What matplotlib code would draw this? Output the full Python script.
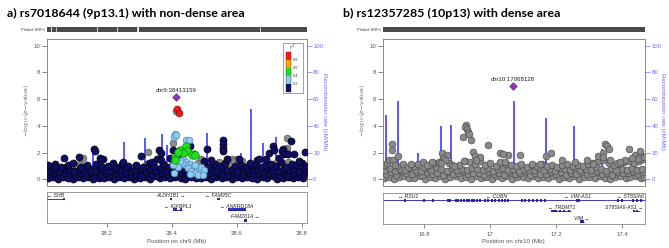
import matplotlib
matplotlib.use("Agg")
import matplotlib.pyplot as plt

plt.rcParams['font.family'] = ['Liberation Sans', 'DejaVu Sans']

W, H = 669, 248
fig = plt.figure(figsize=(W / 100, H / 100), dpi=100)

# ---------------- data: panel a (chr9) ----------------
a_band1_pos = [38.018, 38.033, 38.049, 38.064, 38.081, 38.095, 38.112, 38.127, 38.143, 38.158, 38.175, 38.190, 38.206, 38.221, 38.238, 38.253, 38.269, 38.284, 38.301, 38.316, 38.332, 38.347, 38.364, 38.379, 38.395, 38.410, 38.427, 38.442, 38.458, 38.473, 38.490, 38.505, 38.521, 38.536, 38.553, 38.568, 38.584, 38.599, 38.616, 38.631, 38.647, 38.662, 38.679, 38.694, 38.710, 38.725, 38.742, 38.757, 38.773, 38.788, 38.805]
a_band1_p = [0.08, 0.15, 0.05, 0.20, 0.12, 0.03, 0.18, 0.10, 0.22, 0.06, 0.14, 0.09, 0.19, 0.04, 0.16, 0.11, 0.21, 0.07, 0.13, 0.17, 0.05, 0.23, 0.10, 0.15, 0.08, 0.19, 0.12, 0.04, 0.18, 0.09, 0.14, 0.21, 0.06, 0.16, 0.11, 0.20, 0.03, 0.15, 0.09, 0.22, 0.13, 0.07, 0.17, 0.10, 0.24, 0.05, 0.14, 0.19, 0.08, 0.16, 0.12]
a_band2_pos = [38.025, 38.041, 38.056, 38.072, 38.088, 38.103, 38.119, 38.135, 38.150, 38.166, 38.182, 38.197, 38.213, 38.229, 38.244, 38.260, 38.276, 38.291, 38.307, 38.323, 38.338, 38.354, 38.370, 38.385, 38.401, 38.417, 38.432, 38.448, 38.464, 38.479, 38.495, 38.511, 38.526, 38.542, 38.558, 38.573, 38.589, 38.605, 38.620, 38.636, 38.652, 38.667, 38.683, 38.699, 38.714, 38.730, 38.746, 38.761, 38.777, 38.793, 38.810]
a_band2_p = [0.38, 0.45, 0.32, 0.51, 0.41, 0.35, 0.48, 0.30, 0.55, 0.43, 0.36, 0.50, 0.33, 0.46, 0.40, 0.53, 0.37, 0.44, 0.31, 0.49, 0.42, 0.34, 0.52, 0.39, 0.47, 0.33, 0.45, 0.38, 0.54, 0.36, 0.43, 0.50, 0.32, 0.48, 0.41, 0.35, 0.53, 0.44, 0.30, 0.47, 0.39, 0.51, 0.34, 0.46, 0.42, 0.37, 0.55, 0.33, 0.49, 0.40, 0.45]
a_band3_pos = [38.020, 38.037, 38.053, 38.068, 38.085, 38.100, 38.116, 38.131, 38.147, 38.163, 38.179, 38.194, 38.210, 38.225, 38.241, 38.257, 38.273, 38.288, 38.304, 38.319, 38.336, 38.351, 38.367, 38.382, 38.398, 38.414, 38.430, 38.445, 38.461, 38.476, 38.492, 38.508, 38.524, 38.539, 38.555, 38.570, 38.587, 38.602, 38.618, 38.633, 38.649, 38.665, 38.681, 38.696, 38.712, 38.727, 38.744, 38.759, 38.775, 38.790, 38.807]
a_band3_p = [0.66, 0.78, 0.61, 0.84, 0.70, 0.63, 0.81, 0.68, 0.75, 0.60, 0.83, 0.72, 0.64, 0.79, 0.69, 0.86, 0.62, 0.74, 0.80, 0.65, 0.77, 0.71, 0.85, 0.60, 0.73, 0.67, 0.82, 0.70, 0.63, 0.78, 0.66, 0.84, 0.72, 0.61, 0.80, 0.69, 0.76, 0.64, 0.83, 0.71, 0.68, 0.79, 0.62, 0.85, 0.74, 0.66, 0.81, 0.70, 0.77, 0.63, 0.75]
a_band4_pos = [38.022, 38.040, 38.058, 38.079, 38.097, 38.121, 38.139, 38.168, 38.186, 38.205, 38.228, 38.247, 38.265, 38.290, 38.312, 38.329, 38.345, 38.374, 38.391, 38.437, 38.498, 38.515, 38.532, 38.549, 38.563, 38.594, 38.612, 38.628, 38.644, 38.659, 38.676, 38.690, 38.706, 38.721, 38.735, 38.750, 38.770, 38.784, 38.800, 38.812]
a_band4_p = [0.95, 1.12, 0.90, 1.05, 1.20, 0.93, 1.08, 1.15, 0.97, 1.02, 0.91, 1.18, 0.99, 1.10, 0.94, 1.25, 1.04, 1.13, 0.96, 1.00, 1.07, 0.92, 1.16, 1.01, 1.22, 0.98, 1.11, 0.93, 1.06, 1.19, 0.95, 1.09, 1.14, 1.02, 1.28, 0.97, 1.17, 1.05, 1.21, 0.99]

a_gray_pos = [38.412, 38.405, 38.104, 38.128, 38.328, 38.489, 38.574, 38.584, 38.599, 38.753, 38.754, 38.075, 38.090, 38.118, 38.260, 38.285, 38.320, 38.335, 38.480, 38.520, 38.545, 38.578, 38.590, 38.605, 38.615, 38.625, 38.720, 38.735, 38.758, 38.762, 38.780, 38.400, 38.500]
a_gray_p = [5.10, 2.73, 1.10, 1.58, 2.08, 1.55, 1.55, 1.50, 1.55, 3.08, 2.38, 0.95, 1.05, 1.15, 0.50, 0.90, 1.10, 1.00, 1.20, 1.10, 1.30, 1.25, 1.40, 1.15, 1.35, 0.95, 1.20, 1.00, 1.30, 0.80, 1.10, 1.45, 1.25]
a_navy_pos = [38.018, 38.040, 38.068, 38.114, 38.162, 38.164, 38.179, 38.189, 38.183, 38.305, 38.338, 38.355, 38.361, 38.367, 38.368, 38.405, 38.455, 38.507, 38.557, 38.557, 38.557, 38.557, 38.569, 38.607, 38.663, 38.667, 38.700, 38.712, 38.714, 38.741, 38.738, 38.745, 38.757, 38.766, 38.776, 38.810, 38.395, 38.415, 38.430, 38.500, 38.520, 38.640, 38.690, 38.730, 38.790, 38.250, 38.220]
a_navy_p = [1.05, 0.93, 1.60, 1.68, 2.26, 2.10, 1.60, 1.55, 1.45, 1.73, 1.30, 1.55, 2.23, 1.98, 1.43, 2.23, 2.53, 2.25, 2.93, 2.68, 2.35, 2.10, 1.55, 1.55, 1.43, 1.55, 1.95, 2.50, 2.18, 2.25, 2.15, 1.93, 1.93, 2.86, 1.93, 2.03, 1.60, 1.85, 1.40, 1.35, 1.45, 1.25, 1.50, 1.60, 1.40, 1.30, 1.20]
a_lblue_pos = [38.411, 38.408, 38.413, 38.445, 38.452, 38.434, 38.445, 38.455, 38.465, 38.476, 38.486, 38.440, 38.450, 38.460, 38.470, 38.430, 38.420, 38.480, 38.490, 38.500, 38.455, 38.405, 38.408, 38.425, 38.470, 38.495]
a_lblue_p = [3.38, 3.20, 3.30, 2.93, 2.98, 1.55, 1.30, 1.18, 0.92, 0.73, 0.55, 1.05, 0.85, 0.62, 0.45, 1.20, 0.90, 0.35, 0.95, 0.70, 0.40, 1.05, 0.45, 1.40, 1.10, 0.30]
a_green_pos = [38.425, 38.445, 38.447, 38.467, 38.463, 38.433, 38.411, 38.410, 38.420, 38.472]
a_green_p = [2.22, 2.48, 2.10, 1.93, 1.80, 1.98, 1.65, 1.43, 2.05, 1.85]
a_red_pos = [38.415, 38.421]
a_red_p = [5.29, 4.94]
a_lead_pos, a_lead_p, a_lead_label = 38.413, 6.19, "chr9:38413159"

a_rec_pos = [38.156, 38.252, 38.317, 38.371, 38.384, 38.507, 38.613, 38.643, 38.681, 38.721]
a_rec_rate = [22, 28, 31, 34, 26, 35, 20, 53, 27, 32]

a_gene_names = ['SHB', 'ALDH1B1', 'FAM95C', 'IGFBPL1', 'ANKRD18A', 'FAM201A']
a_gene_start = [38.015, 38.395, 38.542, 38.404, 38.574, 38.622]
a_gene_end = [38.069, 38.398, 38.546, 38.431, 38.625, 38.628]
a_gene_row = [0, 0, 0, 1, 1, 2]
a_gene_strand = ['-', '+', '-', '-', '-', '+']
a_exon_pos = [38.016, 38.068, 38.396, 38.398, 38.543, 38.545, 38.406, 38.412, 38.428, 38.576, 38.582, 38.588, 38.594, 38.600, 38.606, 38.612, 38.618, 38.624, 38.624, 38.627]
a_exon_row = [0, 0, 0, 0, 0, 0, 1, 1, 1, 1, 1, 1, 1, 1, 1, 1, 1, 1, 2, 2]

# ---------------- data: panel b (chr10) ----------------
b_band1_pos = [16.677, 16.692, 16.708, 16.723, 16.739, 16.754, 16.770, 16.786, 16.801, 16.817, 16.832, 16.848, 16.864, 16.879, 16.895, 16.910, 16.926, 16.942, 16.957, 16.973, 16.988, 17.004, 17.020, 17.035, 17.051, 17.066, 17.082, 17.098, 17.113, 17.129, 17.144, 17.160, 17.176, 17.191, 17.207, 17.222, 17.238, 17.254, 17.269, 17.285, 17.300, 17.316, 17.332, 17.347, 17.363, 17.378, 17.394, 17.410, 17.425, 17.441, 17.456, 17.466]
b_band1_p = [0.10, 0.22, 0.05, 0.17, 0.28, 0.08, 0.14, 0.25, 0.03, 0.19, 0.11, 0.27, 0.06, 0.16, 0.23, 0.09, 0.20, 0.04, 0.26, 0.13, 0.18, 0.07, 0.24, 0.12, 0.29, 0.05, 0.15, 0.21, 0.10, 0.26, 0.08, 0.18, 0.13, 0.24, 0.04, 0.20, 0.11, 0.28, 0.07, 0.16, 0.22, 0.09, 0.25, 0.14, 0.06, 0.19, 0.27, 0.12, 0.17, 0.23, 0.08, 0.15]
b_band2_pos = [16.684, 16.700, 16.715, 16.731, 16.746, 16.762, 16.778, 16.793, 16.809, 16.824, 16.840, 16.856, 16.871, 16.887, 16.902, 16.918, 16.934, 16.949, 16.965, 16.980, 16.996, 17.012, 17.027, 17.043, 17.058, 17.074, 17.090, 17.105, 17.121, 17.136, 17.152, 17.168, 17.183, 17.199, 17.214, 17.230, 17.246, 17.261, 17.277, 17.292, 17.308, 17.324, 17.339, 17.355, 17.370, 17.386, 17.402, 17.417, 17.433, 17.448, 17.462]
b_band2_p = [0.42, 0.55, 0.37, 0.60, 0.46, 0.39, 0.53, 0.35, 0.58, 0.44, 0.50, 0.36, 0.57, 0.41, 0.48, 0.62, 0.38, 0.52, 0.45, 0.35, 0.59, 0.43, 0.49, 0.37, 0.56, 0.40, 0.47, 0.61, 0.36, 0.51, 0.44, 0.38, 0.54, 0.42, 0.58, 0.35, 0.48, 0.41, 0.55, 0.39, 0.46, 0.60, 0.43, 0.52, 0.37, 0.57, 0.45, 0.50, 0.62, 0.40, 0.53]
b_band3_pos = [16.680, 16.696, 16.712, 16.727, 16.743, 16.758, 16.774, 16.790, 16.805, 16.821, 16.836, 16.852, 16.868, 16.883, 16.899, 16.914, 16.930, 16.946, 16.961, 16.977, 16.992, 17.008, 17.024, 17.039, 17.055, 17.070, 17.086, 17.102, 17.117, 17.133, 17.148, 17.164, 17.180, 17.195, 17.211, 17.226, 17.242, 17.258, 17.273, 17.289, 17.304, 17.320, 17.336, 17.351, 17.367, 17.382, 17.398, 17.414, 17.429, 17.445, 17.460]
b_band3_p = [0.72, 0.85, 0.66, 0.80, 0.69, 0.88, 0.74, 0.67, 0.83, 0.71, 0.90, 0.76, 0.65, 0.86, 0.73, 0.81, 0.68, 0.89, 0.75, 0.70, 0.84, 0.66, 0.79, 0.87, 0.72, 0.77, 0.65, 0.82, 0.74, 0.69, 0.86, 0.71, 0.80, 0.67, 0.88, 0.75, 0.70, 0.83, 0.68, 0.78, 0.73, 0.90, 0.76, 0.66, 0.85, 0.72, 0.81, 0.69, 0.87, 0.74, 0.79]
b_band4_pos = [16.678, 16.688, 16.716, 16.735, 16.750, 16.768, 16.782, 16.800, 16.815, 16.830, 16.845, 16.860, 16.875, 16.885, 16.905, 16.922, 16.938, 16.953, 16.968, 16.984, 17.000, 17.016, 17.031, 17.047, 17.062, 17.078, 17.094, 17.110, 17.125, 17.140, 17.156, 17.172, 17.187, 17.203, 17.218, 17.234, 17.250, 17.265, 17.281, 17.296, 17.312, 17.328, 17.343, 17.359, 17.374, 17.390, 17.406, 17.421, 17.437, 17.452, 17.464]
b_band4_p = [1.05, 1.25, 0.98, 1.12, 0.95, 1.02, 1.15, 0.97, 1.08, 1.20, 1.30, 1.45, 1.22, 1.10, 1.05, 1.35, 1.28, 1.18, 1.40, 1.10, 1.25, 1.00, 1.32, 1.15, 1.05, 0.98, 1.12, 0.95, 1.08, 1.02, 1.18, 1.00, 1.10, 0.96, 1.05, 1.14, 0.98, 1.08, 1.02, 1.12, 1.20, 1.35, 1.48, 1.25, 1.10, 1.18, 1.30, 1.40, 1.22, 1.35, 1.50]
b_gray_pos = [16.702, 16.702, 16.693, 16.706, 16.721, 16.759, 16.797, 16.809, 16.824, 16.853, 16.868, 16.857, 16.862, 16.850, 16.891, 16.916, 16.926, 16.923, 16.929, 16.932, 16.936, 16.941, 16.920, 16.949, 16.954, 16.969, 16.957, 16.994, 17.029, 17.053, 17.039, 17.045, 17.090, 17.125, 17.151, 17.169, 17.183, 17.216, 17.257, 17.292, 17.310, 17.327, 17.348, 17.353, 17.361, 17.341, 17.342, 17.363, 17.383, 17.421, 17.439, 17.454, 17.454, 17.449, 17.408, 17.430, 17.466, 17.393, 16.711]
b_gray_p = [2.63, 2.23, 1.48, 1.48, 1.73, 1.18, 1.30, 1.05, 1.30, 1.98, 1.80, 1.58, 1.43, 1.20, 0.98, 3.18, 4.06, 3.95, 3.81, 3.56, 3.38, 2.98, 1.38, 2.05, 1.73, 1.68, 1.43, 2.56, 1.98, 1.80, 1.88, 1.30, 1.80, 1.18, 1.13, 1.73, 1.98, 1.48, 1.30, 1.48, 1.13, 1.73, 2.68, 2.48, 2.30, 1.98, 1.65, 1.43, 1.23, 2.30, 1.80, 1.93, 2.10, 1.55, 1.43, 1.58, 1.65, 1.28, 1.10]
b_lead_pos, b_lead_p, b_lead_label = 17.068, 7.00, "chr10:17068128"

b_rec_pos = [16.684, 16.721, 16.782, 16.851, 16.881, 17.071, 17.169, 17.255, 17.338]
b_rec_rate = [48, 59, 20, 40, 41, 59, 46, 40, 23]

b_gene_names = ['RSU1', 'CUBN', 'VIM-AS1', 'ST8SIA6', 'TRDMT1', 'ST8SIA6-AS1', 'VIM']
b_gene_start = [16.637, 16.865, 17.176, 17.352, 17.185, 17.432, 17.272]
b_gene_end = [16.865, 17.176, 17.352, 17.502, 17.245, 17.454, 17.283]
b_gene_row = [0, 0, 0, 0, 1, 1, 2]
b_gene_strand = ['-', '-', '-', '-', '-', '+', '+']
b_exon_pos = [16.742, 16.800, 16.827, 16.873, 16.879, 16.895, 16.903, 16.911, 16.920, 16.928, 16.936, 16.944, 16.952, 16.960, 16.968, 16.985, 16.992, 17.005, 17.015, 17.025, 17.035, 17.045, 17.055, 17.095, 17.105, 17.118, 17.130, 17.142, 17.155, 17.165, 17.262, 17.270, 17.388, 17.398, 17.432, 17.445, 17.458,
              17.188, 17.192, 17.196, 17.200, 17.210, 17.225, 17.240, 17.436, 17.446, 17.274, 17.278, 17.282]
b_exon_row = [0] * 37 + [1] * 9 + [2] * 3

# ---------------- styling ----------------
NAVY = '#0e0e66'
GRAY = '#8a8a8a'
LBLUE = '#8ccbf2'
GREEN = '#1fe01f'
ORANGE = '#ffa500'
RED = '#ff1414'
PURPLE = '#8e35c2'
RECOMB = '#2b2bff'
GENE = '#1c1ca8'
SPINE = '#8a8a8a'
TXT = '#555555'


def ax_px(x0, y0, x1, y1):
    return fig.add_axes([x0 / W, 1 - y1 / H, (x1 - x0) / W, (y1 - y0) / H])


def draw_panel(x0, x1, gy0, gy1, title, chrom, xlim, xticks, xticklabels,
               groups, lead, rec_pos, rec_rate, genes, exons, legend):
    # title
    fig.text((x0 - 39.5) / W, 1 - 13 / H, title, fontsize=8.9, fontweight='bold',
             family=['Lato', 'DejaVu Sans'], va='center', ha='left')
    # plotted SNP strip
    st = ax_px(x0, 27.3, x1, 32.3)
    allpos = []
    for g in groups:
        allpos += list(g[0])
    st.vlines(allpos, 0, 1, color='#4a4a4a', lw=1.6)
    st.set_xlim(xlim)
    st.set_ylim(0, 1)
    st.axis('off')
    fig.text((x0 - 2) / W, 1 - 29.8 / H, 'Plotted SNPs', ha='right', va='center',
             fontsize=2.9, color='#444444')

    # main scatter
    ax = ax_px(x0, 39, x1, 185.5)
    ax2 = ax.twinx()
    ax.set_zorder(ax2.get_zorder() + 1)
    ax.patch.set_visible(False)
    ax2.vlines(rec_pos, 0, rec_rate, color=RECOMB, lw=1.1)
    ax2.set_ylim(-4.5, 105)
    ax.set_ylim(-0.45, 10.5)
    ax.set_xlim(xlim)
    ax2.set_xlim(xlim)
    for pos, p, fc, ec, s in groups:
        ax.scatter(pos, p, s=s, c=fc, edgecolors=ec, linewidths=0.45, zorder=3)
    lp, lv, ll = lead
    ax.scatter([lp], [lv], marker='D', s=15, c=PURPLE, edgecolors='#4a1a6a',
               linewidths=0.4, zorder=5)
    ax.text(lp, lv + 0.27, ll, ha='center', va='bottom', fontsize=4.4, color='#222222')
    ax.set_xticks([])
    ax.set_yticks([0, 2, 4, 6, 8, 10])
    ax.tick_params(axis='y', labelsize=4.3, length=3.5, width=0.5, colors=TXT, pad=1.2)
    ax2.set_yticks([0, 20, 40, 60, 80, 100])
    ax2.tick_params(axis='y', labelsize=4.3, length=3.5, width=0.5, colors='#6f6fff', pad=1.2)
    for a in (ax, ax2):
        for sp in a.spines.values():
            sp.set_color(SPINE)
            sp.set_linewidth(0.6)
    fig.text((x0 - 20) / W, 1 - 110 / H, r'$-\log_{10}(p\mathrm{-value})$', rotation=90,
             ha='center', va='center', fontsize=4.4, color='#806f60')
    fig.text((x1 + 18) / W, 1 - 112 / H, 'Recombination rate (cM/Mb)', rotation=270,
             ha='center', va='center', fontsize=4.4, color='#6a6aff')

    if legend:
        box = plt.Rectangle((0.908, 0.628), 0.079, 0.346, transform=ax.transAxes,
                            facecolor='white', edgecolor='#777777', lw=0.5, zorder=6)
        ax.add_patch(box)
        cols = [NAVY, LBLUE, GREEN, ORANGE, RED]
        h = 0.0548
        for i, c in enumerate(cols):
            ax.add_patch(plt.Rectangle((0.919, 0.639 + i * h), 0.021, h,
                                       transform=ax.transAxes, facecolor=c,
                                       edgecolor='none', zorder=7))
        ax.add_patch(plt.Rectangle((0.919, 0.639), 0.021, 5 * h, transform=ax.transAxes,
                                   facecolor='none', edgecolor='#333333', lw=0.3, zorder=8))
        for i, lab in enumerate(['0.2', '0.4', '0.6', '0.8']):
            ax.text(0.947, 0.639 + (i + 1) * h, lab, transform=ax.transAxes, fontsize=2.9,
                    va='center', ha='left', color='#444444', zorder=8)
        ax.text(0.945, 0.945, r'$r^2$', transform=ax.transAxes, fontsize=3.8,
                va='center', ha='center', color='#444444', zorder=8)

    # gene panel
    g = ax_px(x0, gy0, x1, gy1)
    g.set_xlim(xlim)
    g.set_ylim(31, 0)
    g.set_yticks([])
    g.set_xticks(xticks)
    g.set_xticklabels(xticklabels)
    g.tick_params(axis='x', labelsize=4.3, length=3, width=0.5, colors=TXT, pad=3)
    for sp in g.spines.values():
        sp.set_color(SPINE)
        sp.set_linewidth(0.6)
    names, starts, ends, rows, strands = genes
    for n, s0, s1, r, sd in zip(names, starts, ends, rows, strands):
        y = 7.3 + r * 10.7
        g.hlines(y, s0, s1, color=GENE, lw=0.6)
        lab = ('\u2190 ' + n) if sd == '-' else (n + ' \u2192')
        t = g.text((s0 + s1) / 2, y - 3.4, lab, ha='center', va='center', fontsize=3.7,
                   style='italic', color='#222222')
        fig.canvas.draw()
        bb = t.get_window_extent()
        gb = g.get_window_extent()
        if bb.x1 > gb.x1 - 2:
            t.set_ha('right')
            t.set_x(xlim[1] - (xlim[1] - xlim[0]) * 0.005)
    epos, erow = exons
    ey = [7.3 + r * 10.7 for r in erow]
    g.vlines(epos, [v - 1.3 for v in ey], [v + 1.3 for v in ey], color=GENE, lw=1.3)
    fig.text((x0 + x1) / 2 / W, 1 - 241.5 / H, 'Position on %s (Mb)' % chrom,
             ha='center', va='center', fontsize=4.5, color=TXT)


groups_a = [
    (a_gray_pos, a_gray_p, GRAY, '#555555', 24),
    (a_band1_pos, a_band1_p, NAVY, '#000000', 26),
    (a_band2_pos, a_band2_p, NAVY, '#000000', 26),
    (a_band3_pos, a_band3_p, NAVY, '#000000', 26),
    (a_band4_pos, a_band4_p, NAVY, '#000000', 26),
    (a_navy_pos, a_navy_p, NAVY, '#000000', 26),
    (a_lblue_pos, a_lblue_p, LBLUE, '#4a7fa0', 24),
    (a_green_pos, a_green_p, GREEN, '#117711', 30),
    (a_red_pos, a_red_p, RED, '#770000', 24),
]
groups_b = [
    (b_band1_pos, b_band1_p, GRAY, '#4a4a4a', 24),
    (b_band2_pos, b_band2_p, GRAY, '#4a4a4a', 24),
    (b_band3_pos, b_band3_p, GRAY, '#4a4a4a', 24),
    (b_band4_pos, b_band4_p, GRAY, '#4a4a4a', 24),
    (b_gray_pos, b_gray_p, GRAY, '#4a4a4a', 24),
]

draw_panel(46.7, 306.7, 191.7, 222.7, 'a) rs7018644 (9p13.1) with non-dense area', 'chr9',
           (38.015, 38.815), [38.2, 38.4, 38.6, 38.8], ['38.2', '38.4', '38.6', '38.8'],
           groups_a, (a_lead_pos, a_lead_p, a_lead_label), a_rec_pos, a_rec_rate,
           (a_gene_names, a_gene_start, a_gene_end, a_gene_row, a_gene_strand),
           (a_exon_pos, a_exon_row), True)
draw_panel(382.7, 645, 193, 224, 'b) rs12357285 (10p13) with dense area', 'chr10',
           (16.674, 17.469), [16.8, 17.0, 17.2, 17.4], ['16.8', '17', '17.2', '17.4'],
           groups_b, (b_lead_pos, b_lead_p, b_lead_label), b_rec_pos, b_rec_rate,
           (b_gene_names, b_gene_start, b_gene_end, b_gene_row, b_gene_strand),
           (b_exon_pos, b_exon_row), False)

fig.savefig('out.png', dpi=100)
